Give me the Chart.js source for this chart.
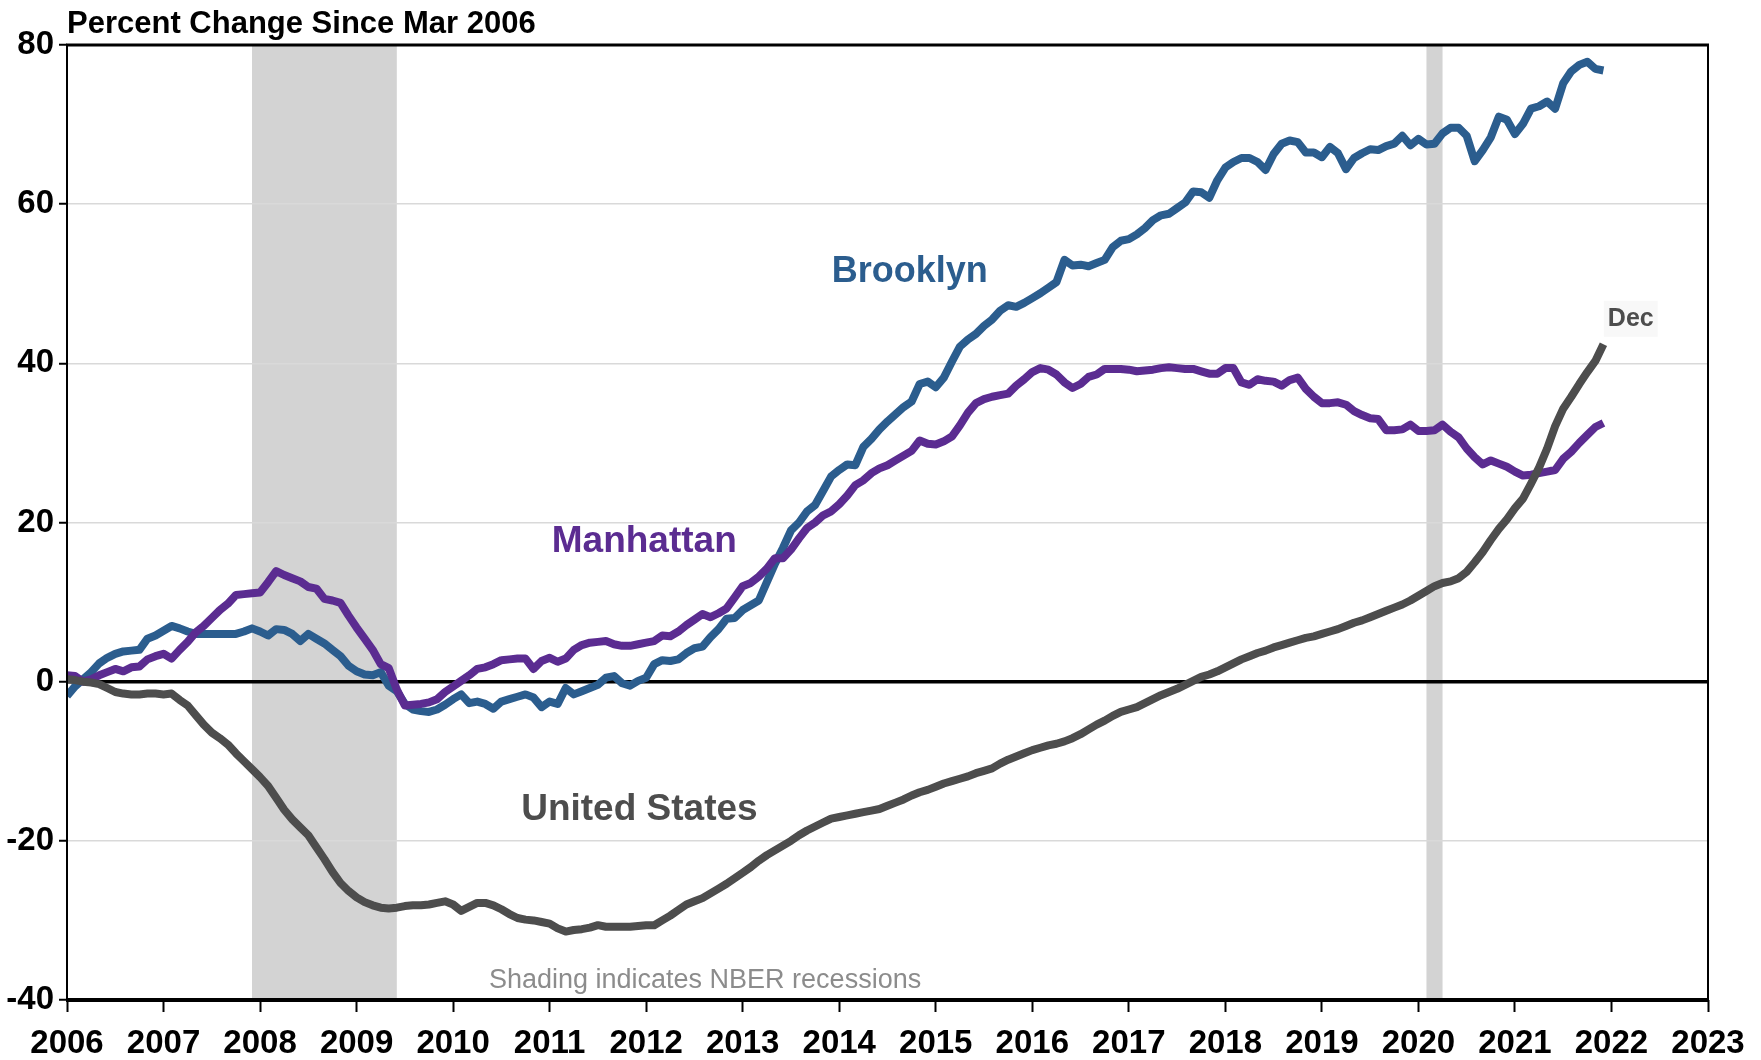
<!DOCTYPE html>
<html>
<head>
<meta charset="utf-8">
<title>Percent Change Since Mar 2006</title>
<script src="https://cdn.jsdelivr.net/npm/chart.js@4.4.1/dist/chart.umd.min.js"></script>
<style>
  html, body { margin: 0; padding: 0; background: #fff; }
  #wrap { width: 1761px; height: 1060px; position: relative; }
</style>
</head>
<body>
<div id="wrap"><canvas id="priceChart"></canvas></div>
<script>
// monthly series, Jan 2006 .. Dec 2021 (percent change since Mar 2006)
const startYear = 2006;

const brooklyn = [
  -1.8, -0.6, 0.3, 1.2, 2.3, 3.0, 3.5, 3.8, 3.9, 4.0, 5.4, 5.8,
  6.4, 7.0, 6.7, 6.3, 6.0, 6.0, 6.0, 6.0, 6.0, 6.0, 6.3, 6.7,
  6.3, 5.8, 6.6, 6.5, 6.0, 5.1, 6.0, 5.4, 4.8, 4.0, 3.2, 2.0,
  1.3, 0.9, 0.8, 1.2, -0.5, -1.2, -2.8, -3.5, -3.7, -3.8, -3.5, -2.9,
  -2.2, -1.6, -2.7, -2.5, -2.8, -3.4, -2.5, -2.2, -1.9, -1.6, -2.0, -3.2,
  -2.5, -2.8, -0.8, -1.6, -1.2, -0.8, -0.4, 0.5, 0.7, -0.2, -0.5, 0.1,
  0.5, 2.2, 2.7, 2.6, 2.8, 3.6, 4.2, 4.4, 5.6, 6.6, 7.9, 8.0,
  9.0, 9.6, 10.2, 12.5, 14.8, 16.8, 19.0, 20.0, 21.4, 22.2, 24.0, 25.8,
  26.6, 27.3, 27.2, 29.5, 30.5, 31.7, 32.7, 33.6, 34.5, 35.2, 37.4, 37.7,
  37.0, 38.2, 40.2, 42.1, 43.0, 43.7, 44.7, 45.5, 46.6, 47.3, 47.1, 47.6,
  48.2, 48.8, 49.5, 50.2, 53.0, 52.3, 52.4, 52.2, 52.6, 53.0, 54.6, 55.4,
  55.6, 56.2, 57.0, 58.0, 58.6, 58.8, 59.5, 60.2, 61.6, 61.5, 60.8, 63.0,
  64.6, 65.3, 65.8, 65.8, 65.3, 64.3, 66.3, 67.6, 68.0, 67.8, 66.5, 66.5,
  65.9, 67.2, 66.4, 64.4, 65.8, 66.4, 66.9, 66.8, 67.3, 67.6, 68.6, 67.4,
  68.2, 67.5, 67.6, 68.9, 69.6, 69.6, 68.6, 65.4, 66.8, 68.4, 71.0, 70.6,
  68.8, 70.1, 72.0, 72.3, 72.9, 72.0, 75.2, 76.7, 77.5, 77.9, 77.0, 76.8
];

const manhattan = [
  0.8, 0.7, 0.0, 0.3, 0.8, 1.2, 1.6, 1.3, 1.8, 1.9, 2.8, 3.2,
  3.5, 2.9, 4.0, 5.0, 6.2, 7.0, 8.0, 9.0, 9.8, 10.9, 11.0, 11.1,
  11.2, 12.5, 13.9, 13.4, 13.0, 12.6, 11.9, 11.7, 10.4, 10.2, 9.9, 8.3,
  6.8, 5.4, 4.0, 2.2, 1.7, -1.0, -3.0, -2.9, -2.8, -2.6, -2.2, -1.3,
  -0.6, 0.1, 0.8, 1.6, 1.8, 2.2, 2.7, 2.8, 2.9, 2.9, 1.6, 2.6,
  3.0, 2.5, 2.9, 4.0, 4.6, 4.9, 5.0, 5.1, 4.7, 4.5, 4.5, 4.7,
  4.9, 5.1, 5.8, 5.7, 6.3, 7.1, 7.8, 8.5, 8.1, 8.6, 9.2, 10.6,
  12.0, 12.4, 13.2, 14.2, 15.5, 15.5, 16.6, 18.0, 19.3, 20.0, 20.9, 21.4,
  22.3, 23.4, 24.7, 25.3, 26.2, 26.8, 27.2, 27.8, 28.4, 29.0, 30.3, 29.9,
  29.8, 30.2, 30.8, 32.2, 33.8, 35.0, 35.5, 35.8, 36.0, 36.2, 37.2, 38.0,
  38.9, 39.4, 39.2, 38.6, 37.6, 36.9, 37.4, 38.3, 38.6, 39.3, 39.3, 39.3,
  39.2, 39.0, 39.1, 39.2, 39.4, 39.5, 39.4, 39.3, 39.3, 39.0, 38.7, 38.7,
  39.4, 39.4, 37.6, 37.3, 38.0, 37.8, 37.7, 37.2, 37.9, 38.2, 36.8, 35.8,
  35.0, 35.0, 35.1, 34.8, 34.0, 33.5, 33.1, 33.0, 31.6, 31.6, 31.7, 32.3,
  31.5, 31.5, 31.6, 32.3, 31.4, 30.7, 29.3, 28.2, 27.3, 27.8, 27.4, 27.0,
  26.4, 25.9, 26.0, 26.2, 26.4, 26.6, 28.0, 28.9, 30.0, 31.0, 32.0, 32.5
];

const unitedStates = [
  0.3, 0.2, 0.0, -0.1, -0.3, -0.8, -1.3, -1.5, -1.6, -1.6, -1.5, -1.5,
  -1.6, -1.5, -2.3, -3.0, -4.2, -5.4, -6.4, -7.1, -7.9, -9.0, -10.0, -11.0,
  -12.0, -13.1, -14.6, -16.1, -17.3, -18.3, -19.3, -20.8, -22.3, -23.9, -25.3, -26.3,
  -27.1, -27.7, -28.1, -28.4, -28.5, -28.4, -28.2, -28.1, -28.1, -28.0, -27.8, -27.6,
  -28.0, -28.8, -28.3, -27.8, -27.8, -28.1, -28.6, -29.2, -29.7, -29.9, -30.0, -30.2,
  -30.4, -31.0, -31.4, -31.2, -31.1, -30.9, -30.6, -30.8, -30.8, -30.8, -30.8, -30.7,
  -30.6, -30.6, -30.0, -29.4, -28.7, -28.0, -27.6, -27.2, -26.6, -26.0, -25.4, -24.7,
  -24.0, -23.3, -22.5, -21.8, -21.2, -20.6, -20.0, -19.3, -18.7, -18.2, -17.7, -17.2,
  -17.0, -16.8, -16.6, -16.4, -16.2, -16.0, -15.6, -15.2, -14.8, -14.3, -13.9, -13.6,
  -13.2, -12.8, -12.5, -12.2, -11.9, -11.5, -11.2, -10.9, -10.3, -9.8, -9.4, -9.0,
  -8.6, -8.3, -8.0, -7.8, -7.5, -7.1, -6.6, -6.0, -5.4, -4.9, -4.3, -3.8,
  -3.5, -3.2, -2.7, -2.2, -1.7, -1.3, -0.9, -0.4, 0.1, 0.6, 0.9, 1.3,
  1.8, 2.3, 2.8, 3.2, 3.6, 3.9, 4.3, 4.6, 4.9, 5.2, 5.5, 5.7,
  6.0, 6.3, 6.6, 7.0, 7.4, 7.7, 8.1, 8.5, 8.9, 9.3, 9.7, 10.2,
  10.8, 11.4, 12.0, 12.4, 12.6, 13.0, 13.8, 15.0, 16.3, 17.8, 19.2, 20.4,
  21.8, 23.0, 24.9, 26.9, 29.3, 32.1, 34.3, 35.8, 37.4, 38.9, 40.3, 42.4
];

// NBER recessions (Dec 2007 - Jun 2009, Feb 2020 - Apr 2020)
const recessionStart = [2007 + 11 / 12, 2020 + 1 / 12];
const recessionEnd = [2009 + 5 / 12, 2020 + 3 / 12];

const xMin = 2006, xMax = 2023;
const yMin = -40, yMax = 80, yStep = 20;

const NARROW = '"Liberation Sans Narrow", "Arial Narrow", "Liberation Sans", Arial, sans-serif';
const WIDE = '"Liberation Sans", Arial, sans-serif';

function toPoints(arr) {
  return arr.map((v, i) => ({ x: startYear + i / 12, y: v }));
}

// text labels placed in data coordinates
const notes = [
  { text: 'Brooklyn', x: 2014.73, y: 51.5, color: '#2b5d8e', font: 'bold 36px ' + WIDE },
  { text: 'Manhattan', x: 2011.98, y: 17.6, color: '#5b2c91', font: 'bold 37px ' + WIDE },
  { text: 'United States', x: 2011.93, y: -16.1, color: '#4d4d4d', font: 'bold 37px ' + WIDE },
  { text: 'Dec', x: 2022.2, y: 45.6, color: '#4d4d4d', font: 'bold 25px ' + WIDE, box: true },
  { text: 'Shading indicates NBER recessions', x: 2012.61, y: -37.6, color: '#8c8c8c', font: '27px ' + NARROW }
];

const decorations = {
  id: 'decorations',
  beforeDraw(chart) {
    const { ctx, chartArea: a, scales: { x } } = chart;
    ctx.save();
    ctx.fillStyle = '#d3d3d3';
    recessionStart.forEach((s, k) => {
      const x0 = x.getPixelForValue(s);
      const x1 = x.getPixelForValue(recessionEnd[k]);
      ctx.fillRect(x0, a.top, x1 - x0, a.bottom - a.top);
    });
    ctx.restore();
  },
  afterDraw(chart) {
    const { ctx, chartArea: a, scales: { x, y } } = chart;
    ctx.save();
    // frame
    ctx.strokeStyle = '#000';
    ctx.lineWidth = 3;
    ctx.beginPath(); ctx.moveTo(a.left - 1, a.top); ctx.lineTo(a.right + 1, a.top); ctx.stroke();
    ctx.lineWidth = 4;
    ctx.beginPath(); ctx.moveTo(a.left - 1, a.bottom); ctx.lineTo(a.right + 1, a.bottom); ctx.stroke();
    ctx.lineWidth = 2;
    ctx.beginPath(); ctx.moveTo(a.left, a.top); ctx.lineTo(a.left, a.bottom); ctx.stroke();
    ctx.beginPath(); ctx.moveTo(a.right, a.top); ctx.lineTo(a.right, a.bottom); ctx.stroke();

    // title
    ctx.fillStyle = '#000';
    ctx.font = 'bold 31px ' + NARROW;
    ctx.textAlign = 'left';
    ctx.textBaseline = 'alphabetic';
    ctx.fillText('Percent Change Since Mar 2006', a.left, 33);

    // series labels
    ctx.textAlign = 'center';
    ctx.textBaseline = 'middle';
    notes.forEach(n => {
      const px = x.getPixelForValue(n.x);
      const py = y.getPixelForValue(n.y);
      ctx.font = n.font;
      if (n.box) {
        const w = ctx.measureText(n.text).width;
        ctx.fillStyle = '#f8f8f8';
        ctx.fillRect(px - w / 2 - 4, py - 18, w + 8, 36);
      }
      ctx.fillStyle = n.color;
      ctx.fillText(n.text, px, py);
    });
    ctx.restore();
  }
};

function loadChart() {
  const ctx = document.getElementById('priceChart');
  if (!ctx) return;

  new Chart(ctx, {
    type: 'line',
    data: {
      datasets: [
        { label: 'United States', data: toPoints(unitedStates), borderColor: '#4d4d4d' },
        { label: 'Manhattan', data: toPoints(manhattan), borderColor: '#5b2c91' },
        { label: 'Brooklyn', data: toPoints(brooklyn), borderColor: '#2b5d8e' }
      ]
    },
    options: {
      responsive: true,
      maintainAspectRatio: false,
      devicePixelRatio: 1,
      animation: false,
      layout: { padding: { top: 45, right: 53, left: 0, bottom: 0 } },
      elements: {
        line: { borderWidth: 8, tension: 0, borderJoinStyle: 'round', fill: false },
        point: { radius: 0, hoverRadius: 0 }
      },
      plugins: {
        legend: { display: false },
        tooltip: { enabled: false },
        title: { display: false }
      },
      scales: {
        x: {
          type: 'linear',
          min: xMin,
          max: xMax,
          afterFit(scale) { scale.height = 60; },
          border: { display: false },
          grid: {
            drawOnChartArea: false,
            drawTicks: true,
            tickLength: 12,
            tickColor: '#000',
            tickWidth: 2
          },
          ticks: {
            stepSize: 1,
            autoSkip: false,
            maxRotation: 0,
            padding: 12,
            color: '#000',
            font: { family: NARROW, size: 33, weight: 'bold' },
            callback: v => String(v)
          }
        },
        y: {
          min: yMin,
          max: yMax,
          afterFit(scale) { scale.width = 67; },
          border: { display: false },
          grid: {
            color: c => (c.tick && c.tick.value === 0 ? '#000' : '#d9d9d9'),
            lineWidth: c => (c.tick && c.tick.value === 0 ? 3.5 : 1.5),
            drawTicks: true,
            tickLength: 8,
            tickColor: '#000',
            tickWidth: 2
          },
          ticks: {
            stepSize: yStep,
            padding: 5,
            color: '#000',
            font: { family: NARROW, size: 33, weight: 'bold' },
            callback: v => String(v)
          }
        }
      }
    },
    plugins: [decorations]
  });
}

document.addEventListener('DOMContentLoaded', function () {
  loadChart();
});
</script>
</body>
</html>
